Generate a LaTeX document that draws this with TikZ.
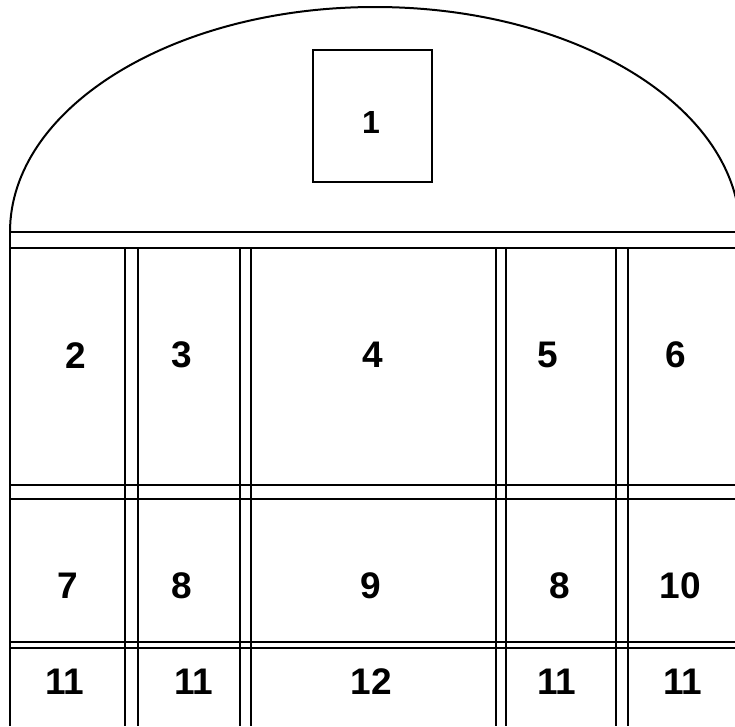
\documentclass[tikz,border=0pt]{standalone}
\usepackage{fontspec}
\setmainfont{Liberation Sans}
\tikzset{
  wall/.style={line width=2pt, black},
  lbl/.style={font=\fontsize{37}{37}\selectfont\bfseries, inner sep=0pt, anchor=center},
  lblsmall/.style={font=\fontsize{32}{32}\selectfont\bfseries, inner sep=0pt, anchor=center}
}
\begin{document}
\begin{tikzpicture}[x=1pt,y=-1pt]
\useasboundingbox (0,0) rectangle (735,726);
\clip (0,0) rectangle (735,726);
% dome
\draw[wall] (10,232) arc[start angle=180, end angle=360, x radius=365, y radius=225];
% left wall
\draw[wall] (10,232) -- (10,726);
% horizontal double lines
\foreach \y in {232,248,485,499,642,648}
  \draw[wall] (10,\y) -- (735,\y);
% vertical double lines
\foreach \x in {125,138,240,251,496,506,616,628}
  \draw[wall] (\x,248) -- (\x,726);
% box 1
\draw[wall] (313,50) rectangle (432,182);
\node[lblsmall] (n1) at (371,122) {1};
% row 1
\node[lbl] (n2) at (76,356) {2};
\node[lbl] (n3) at (182,355) {3};
\node[lbl] (n4) at (373,355) {4};
\node[lbl] (n5) at (548,355) {5};
\node[lbl] (n6) at (676,355) {6};
% row 2
\node[lbl] (n7) at (68,586) {7};
\node[lbl] (n8a) at (182,586) {8};
\node[lbl] (n9) at (371,586) {9};
\node[lbl] (n8b) at (560,586) {8};
\node[lbl] (n10) at (680,586) {10};
% row 3
\node[lbl] (n11a) at (65,682) {11};
\node[lbl] (n11b) at (194,682) {11};
\node[lbl] (n12) at (371,682) {12};
\node[lbl] (n11c) at (557,682) {11};
\node[lbl] (n11d) at (683,682) {11};
\end{tikzpicture}
\end{document}
